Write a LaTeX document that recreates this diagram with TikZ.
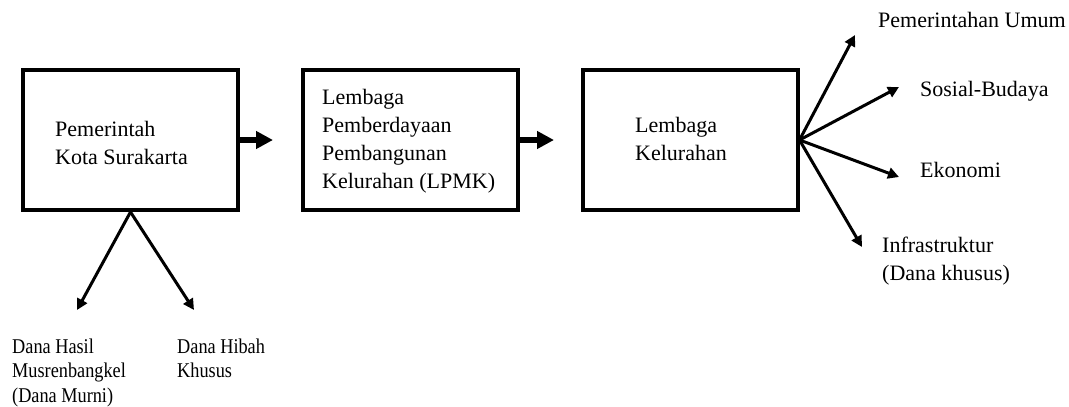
\documentclass[tikz,border=0pt]{standalone}
\usepackage{fontspec}
\setmainfont{Liberation Serif}
\usetikzlibrary{arrows.meta}
\tikzset{
  box/.style={draw, line width=4pt, minimum width=215pt, minimum height=140pt, inner sep=0pt},
  txt/.style={anchor=base west, inner sep=0pt, font=\fontsize{22pt}{28pt}\selectfont},
  smalltxt/.style={anchor=base west, inner sep=0pt, font=\fontsize{21pt}{24.5pt}\selectfont},
  bigarrow/.style={line width=5.5pt, -{Triangle[length=17pt,width=17pt]}},
  thinarrow/.style={line width=3pt, -{Triangle[length=11pt,width=11pt]}},
}
\newcommand{\lines}[1]{\begin{tabular}[t]{@{}l@{}}#1\end{tabular}}
\begin{document}
\begin{tikzpicture}[x=1pt,y=-1pt]
\useasboundingbox (0,0) rectangle (1069,407);
% boxes
\node[box] (b1) at (130.5,140) {};
\node[box] (b2) at (410,140) {};
\node[box] (b3) at (690,140) {};
% box texts
\node[txt] (t1) at (55,136) {\lines{Pemerintah\\Kota Surakarta}};
\node[txt] (t2) at (322,104) {\lines{Lembaga\\Pemberdayaan\\Pembangunan\\Kelurahan (LPMK)}};
\node[txt] (t3) at (635,132) {\lines{Lembaga\\Kelurahan}};
% main arrows
\coordinate (a1) at (273,140);
\coordinate (a2) at (554,140);
\draw[bigarrow] (b1.east) -- (a1);
\draw[bigarrow] (b2.east) -- (a2);
% fan arrows
\coordinate (f1) at (855,35);
\coordinate (f2) at (899,87);
\coordinate (f3) at (899,177);
\coordinate (f4) at (862,247);
\draw[thinarrow] (b3.east) -- (f1);
\draw[thinarrow] (b3.east) -- (f2);
\draw[thinarrow] (b3.east) -- (f3);
\draw[thinarrow] (b3.east) -- (f4);
\node[txt] (r1) at (878,27) {Pemerintahan Umum};
\node[txt] (r2) at (920,96) {Sosial-Budaya};
\node[txt] (r3) at (920,177) {Ekonomi};
\node[txt] (r4) at (882,252) {\lines{Infrastruktur\\(Dana khusus)}};
% bottom arrows
\coordinate (d1) at (77,310);
\coordinate (d2) at (194,310);
\draw[thinarrow] (b1.south) -- (d1);
\draw[thinarrow] (b1.south) -- (d2);
\node[smalltxt] (s1) at (12,353) {\scalebox{0.87}[1]{\lines{Dana Hasil\\Musrenbangkel\\(Dana Murni)}}};
\node[smalltxt] (s2) at (177,353) {\scalebox{0.87}[1]{\lines{Dana Hibah\\Khusus}}};
\end{tikzpicture}
\end{document}
